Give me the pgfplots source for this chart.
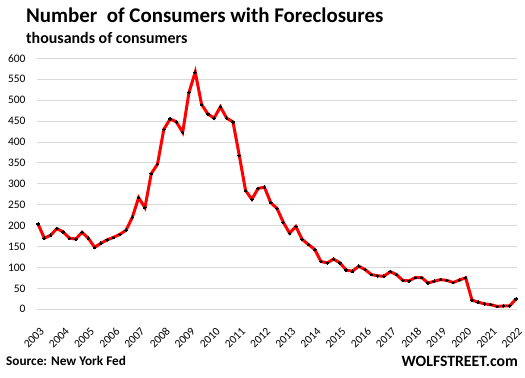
\documentclass[border=0pt]{standalone}
\usepackage{pgfplots}
\pgfplotsset{compat=1.18}
\usepackage{pgfplotstable}
\usepackage{fontspec}
\setmainfont{Carlito}
\definecolor{gridgray}{HTML}{D9D9D9}
\pgfplotstableread{
x y
2003.00 204
2003.25 170
2003.50 177
2003.75 193
2004.00 185
2004.25 170
2004.50 168
2004.75 184
2005.00 170
2005.25 148
2005.50 158
2005.75 166
2006.00 172
2006.25 179
2006.50 189
2006.75 220
2007.00 267
2007.25 243
2007.50 324
2007.75 347
2008.00 430
2008.25 455
2008.50 448
2008.75 423
2009.00 518
2009.25 567
2009.50 490
2009.75 467
2010.00 457
2010.25 484
2010.50 457
2010.75 448
2011.00 368
2011.25 284
2011.50 263
2011.75 289
2012.00 292
2012.25 255
2012.50 241
2012.75 208
2013.00 182
2013.25 198
2013.50 167
2013.75 155
2014.00 143
2014.25 114
2014.50 111
2014.75 120
2015.00 111
2015.25 94
2015.50 91
2015.75 103
2016.00 95
2016.25 83
2016.50 80
2016.75 79
2017.00 90
2017.25 83
2017.50 69
2017.75 68
2018.00 76
2018.25 76
2018.50 63
2018.75 67
2019.00 71
2019.25 69
2019.50 64
2019.75 70
2020.00 75
2020.25 22
2020.50 17
2020.75 13
2021.00 11
2021.25 7
2021.50 8
2021.75 8
2022.00 25
}\foreclosures
\begin{document}
\begin{tikzpicture}
\useasboundingbox (-37bp,-68.7bp) rectangle (488bp,309.3bp);
\begin{axis}[
  at={(0,0)}, anchor=south west,
  scale only axis,
  width=480bp, height=251bp,
  xmin=2002.96, xmax=2022.04,
  ymin=0, ymax=600,
  ytick={0,50,...,600},
  xtick={2003,2004,...,2022},
  xticklabels={2003,2004,2005,2006,2007,2008,2009,2010,2011,2012,2013,2014,2015,2016,2017,2018,2019,2020,2021,2022},
  /pgf/number format/assume math mode=true,
  ticklabel style={font=\fontsize{11.5}{13}\selectfont, text=black},
  yticklabel style={xshift=-8bp},
  xticklabel style={rotate=45, anchor=north east, yshift=-10bp, xshift=-8bp},
  axis line style={draw=none},
  major tick length=0pt,
  ymajorgrids,
  grid style={gridgray, line width=0.8bp},
  clip=false,
]
\addplot[red, line width=3bp, mark=*, mark size=1.3bp, mark options={fill=black, draw=black, line width=0pt}] table[x=x, y=y] {\foreclosures};
\end{axis}
\node[anchor=base west, inner sep=0pt, font=\fontsize{21}{24}\selectfont\bfseries] at (-11bp,286.6bp) {Number\ \ of Consumers with Foreclosures};
\node[anchor=base west, inner sep=0pt, font=\fontsize{16}{18}\selectfont\bfseries] at (-11bp,266bp) {thousands of consumers};
\node[anchor=base west, inner sep=0pt, font=\fontsize{13.3}{15}\selectfont\bfseries] at (-31bp,-55.7bp) {Source: New York Fed};
\node[anchor=base east, inner sep=0pt, font=\fontsize{15.8}{18}\selectfont\bfseries] at (481bp,-56.7bp) {WOLFSTREET.com};
\end{tikzpicture}
\end{document}
